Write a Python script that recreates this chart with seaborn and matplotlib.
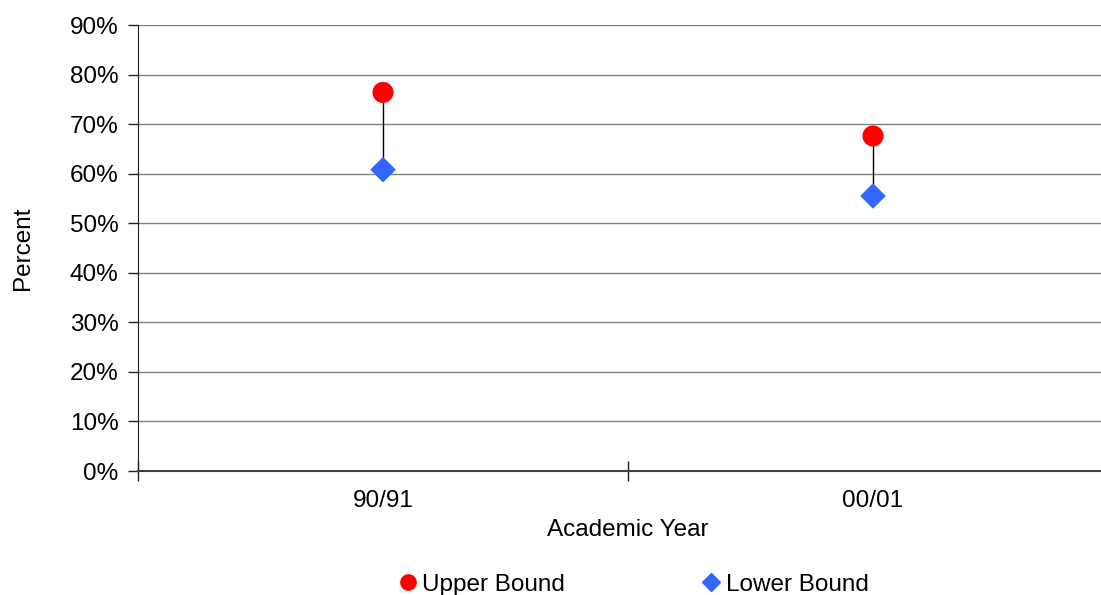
import pandas as pd
import matplotlib
matplotlib.use("Agg")
import matplotlib.pyplot as plt
import seaborn as sns
from matplotlib.ticker import PercentFormatter
from matplotlib.lines import Line2D

# values
years = ["90/91", "00/01"]
upper = [76.4, 67.6]
lower = [60.8, 55.5]

df = pd.DataFrame({"year": years, "upper": upper, "lower": lower})
df["x"] = range(len(df))

sns.set_style("white")
plt.rcParams["font.family"] = ["Liberation Sans", "DejaVu Sans"]
plt.rcParams["text.color"] = "black"
plt.rcParams["axes.labelcolor"] = "black"
plt.rcParams["xtick.color"] = "black"
plt.rcParams["ytick.color"] = "black"

fs = 17.5

fig = plt.figure(figsize=(11.01, 5.95), dpi=100)
ax = fig.add_axes([138 / 1101, 1 - 471 / 595, 980 / 1101, 446 / 595])

# thin line joining the bounds
ax.vlines(df["x"], df["lower"], df["upper"], color="black", lw=1, zorder=2)
sns.scatterplot(data=df, x="x", y="upper", marker="o", s=230, color="#ff0000",
                edgecolor="none", ax=ax, zorder=3)
sns.scatterplot(data=df, x="x", y="lower", marker="D", s=170, color="#3366ff",
                edgecolor="none", ax=ax, zorder=3)

ax.set_xlim(-0.5, 1.5)
ax.set_ylim(0, 90)
ax.set_yticks(range(0, 91, 10))
ax.yaxis.set_major_formatter(PercentFormatter(decimals=0))
ax.grid(axis="y", color="#808080", lw=1)
ax.set_axisbelow(True)

ax.set_xticks([-0.5, 0.5, 1.5])
ax.set_xticklabels([])
ax.set_xticks(df["x"], minor=True)
ax.set_xticklabels(years, minor=True)
ax.tick_params(axis="x", which="major", bottom=True, direction="inout", length=14, width=1, color="#202020")
ax.tick_params(axis="x", which="minor", bottom=True, length=0, labelsize=fs, pad=14)
ax.tick_params(axis="y", left=True, direction="out", length=7, width=1, labelsize=fs, color="#202020", pad=7)

for s in ["top", "right"]:
    ax.spines[s].set_visible(False)
ax.spines["left"].set_color("#202020")
ax.spines["bottom"].set_color("#404040")
ax.spines["bottom"].set_linewidth(1.5)

ax.set_xlabel("Academic Year", fontsize=fs, labelpad=5)
ax.set_ylabel("Percent", fontsize=fs, labelpad=26)

handles = [
    Line2D([], [], marker="o", ls="none", color="#ff0000", markersize=11),
    Line2D([], [], marker="D", ls="none", color="#3366ff", markersize=9),
]
fig.legend(handles, ["Upper Bound", "Lower Bound"], loc="lower center",
           bbox_to_anchor=(0.573, -0.038), ncol=2, frameon=False, fontsize=fs,
           columnspacing=5.4, handletextpad=0.0, handlelength=1.2)

fig.savefig("out.png", dpi=100)
